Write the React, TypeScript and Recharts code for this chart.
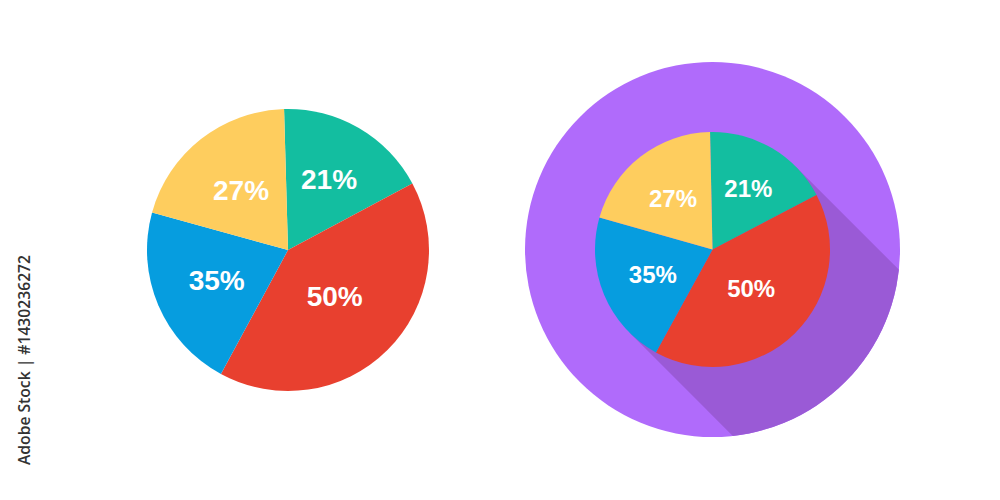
import React from 'react';
import { PieChart, Pie, Cell } from 'recharts';

// slice shares in degrees of the circle (clockwise from 12 o'clock)
const segments = ['green', 'red', 'blue', 'yellow'];
const shares = [63.5, 146.5, 77, 73];
const labels = ['21%', '50%', '35%', '27%'];
const colors = ['#13BEA0', '#E8402F', '#069DDF', '#FECD5E'];

const data = segments.map((name, i) => ({ name, value: shares[i], label: labels[i] }));

const RADIAN = Math.PI / 180;

const makeLabel = (factors: number[], fontSize: number) => (props: any) => {
  const { cx, cy, midAngle, outerRadius, index } = props;
  const r = outerRadius * factors[index];
  const x = cx + r * Math.cos(-midAngle * RADIAN);
  const y = cy + r * Math.sin(-midAngle * RADIAN);
  return (
    <text
      x={x}
      y={y}
      fill="#FFFFFF"
      textAnchor="middle"
      dominantBaseline="central"
      fontFamily="'Liberation Sans', Arial, sans-serif"
      fontWeight="bold"
      fontSize={fontSize}
    >
      {data[index].label}
    </text>
  );
};

const leftLabel = makeLabel([0.58, 0.47, 0.55, 0.54], 28);
const rightLabel = makeLabel([0.6, 0.47, 0.55, 0.55], 24);

const RC = { x: 712.5, y: 249.5 };
const OUTER_R = 187.5;
const INNER_R = 117.5;

const Backdrop = () => {
  const d = INNER_R / Math.SQRT2;
  const far = 400;
  const pts = [
    [RC.x + d, RC.y - d],
    [RC.x + d + far, RC.y - d + far],
    [RC.x - d + far, RC.y + d + far],
    [RC.x - d, RC.y + d],
  ]
    .map((p) => p.join(','))
    .join(' ');
  return (
    <svg width={1000} height={500} style={{ position: 'absolute', left: 0, top: 0 }}>
      <defs>
        <clipPath id="discClip">
          <circle cx={RC.x} cy={RC.y} r={OUTER_R} />
        </clipPath>
      </defs>
      <circle cx={RC.x} cy={RC.y} r={OUTER_R} fill="#B06BFB" />
      <polygon points={pts} fill="#9A5AD6" clipPath="url(#discClip)" />
      <text
        x={23}
        y={360}
        transform="rotate(-90 23 360)"
        textAnchor="middle"
        dominantBaseline="central"
        fontFamily="'Open Sans', sans-serif"
        fontWeight={600}
        fontSize={17}
        textLength={210}
        lengthAdjust="spacingAndGlyphs"
        fill="#333333"
      >
        Adobe Stock | #1430236272
      </text>
    </svg>
  );
};

export default function App() {
  return (
    <div style={{ position: 'fixed', left: 0, top: 0, width: 1000, height: 500, background: '#FFFFFF' }}>
      <Backdrop />
      <div style={{ position: 'absolute', left: 0, top: 0 }}>
        <PieChart width={1000} height={500} margin={{ top: 0, right: 0, bottom: 0, left: 0 }}>
          <Pie
            data={data}
            dataKey="value"
            cx={288}
            cy={250}
            outerRadius={141}
            startAngle={91.6}
            endAngle={-268.4}
            stroke="none"
            labelLine={false}
            label={leftLabel}
            isAnimationActive={false}
          >
            {data.map((d, i) => (
              <Cell key={d.name} fill={colors[i]} />
            ))}
          </Pie>
          <Pie
            data={data}
            dataKey="value"
            cx={RC.x}
            cy={RC.y}
            outerRadius={INNER_R}
            startAngle={91.2}
            endAngle={-268.8}
            stroke="none"
            labelLine={false}
            label={rightLabel}
            isAnimationActive={false}
          >
            {data.map((d, i) => (
              <Cell key={d.name} fill={colors[i]} />
            ))}
          </Pie>
        </PieChart>
      </div>
    </div>
  );
}
